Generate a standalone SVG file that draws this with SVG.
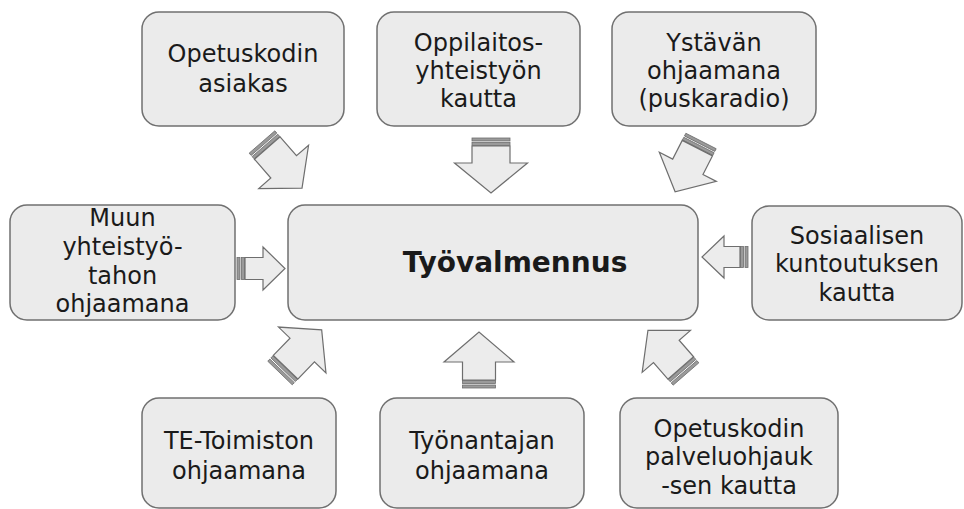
<svg xmlns="http://www.w3.org/2000/svg" width="964" height="509" viewBox="0 0 964 509">
<style>
.box{fill:#ebebeb;stroke:#707070;stroke-width:1.5}
.t{font-family:"DejaVu Sans","Liberation Sans",sans-serif;font-size:24px;fill:#1a1a1a;text-anchor:middle}
.b{font-size:28px;font-weight:bold}
.ar{fill:#ececec;stroke:#6e6e6e;stroke-width:1.2;stroke-linejoin:miter}
.st{fill:#9a9a9a;stroke:#6e6e6e;stroke-width:0.8}
</style>
<rect width="964" height="509" fill="#fff"/>
<g id="connectors">
<g transform="translate(262,142) rotate(49)">
<rect class="st" x="0" y="-17" width="3" height="34"/><rect class="st" x="4.5" y="-17" width="3" height="34"/>
<path class="ar" d="M8,-17 H33 V-33 L61,0 L33,33 V17 H8 Z"/></g>
<g transform="translate(491,138) rotate(90)">
<rect class="st" x="0" y="-19" width="3" height="38"/><rect class="st" x="4.5" y="-19" width="3" height="38"/>
<path class="ar" d="M8,-19 H25 V-36.5 L55,0 L25,36.5 V19 H8 Z"/></g>
<g transform="translate(701,141) rotate(117)">
<rect class="st" x="0" y="-17" width="3" height="34"/><rect class="st" x="4.5" y="-17" width="3" height="34"/>
<path class="ar" d="M8,-17 H29 V-32 L57,0 L29,32 V17 H8 Z"/></g>
<g transform="translate(237,268.5) rotate(0)">
<rect class="st" x="0" y="-11" width="3" height="22"/><rect class="st" x="4.5" y="-11" width="3" height="22"/>
<path class="ar" d="M8,-11 H26 V-21.5 L48,0 L26,21.5 V11 H8 Z"/></g>
<g transform="translate(748,257) rotate(180)">
<rect class="st" x="0" y="-10.5" width="3" height="21"/><rect class="st" x="4.5" y="-10.5" width="3" height="21"/>
<path class="ar" d="M8,-10.5 H24 V-21 L46,0 L24,21 V10.5 H8 Z"/></g>
<g transform="translate(280,373) rotate(-46)">
<rect class="st" x="0" y="-17" width="3" height="34"/><rect class="st" x="4.5" y="-17" width="3" height="34"/>
<path class="ar" d="M8,-17 H32 V-33 L60,0 L32,33 V17 H8 Z"/></g>
<g transform="translate(479,388) rotate(-90)">
<rect class="st" x="0" y="-16.5" width="3" height="33"/><rect class="st" x="4.5" y="-16.5" width="3" height="33"/>
<path class="ar" d="M8,-16.5 H26 V-35 L56,0 L26,35 V16.5 H8 Z"/></g>
<g transform="translate(686,374) rotate(-131)">
<rect class="st" x="0" y="-17" width="3" height="34"/><rect class="st" x="4.5" y="-17" width="3" height="34"/>
<path class="ar" d="M8,-17 H30 V-32 L58,0 L30,32 V17 H8 Z"/></g>
</g>
<g id="n1"><rect class="box" x="142" y="12" width="202" height="114" rx="17"/>
<text class="t" x="243" y="62">Opetuskodin</text><text class="t" x="243" y="92">asiakas</text></g>
<g id="n2"><rect class="box" x="377" y="12" width="203" height="114" rx="17"/>
<text class="t" x="478.5" y="51">Oppilaitos-</text><text class="t" x="478.5" y="79">yhteistyön</text><text class="t" x="478.5" y="107">kautta</text></g>
<g id="n3"><rect class="box" x="612" y="12" width="204" height="114" rx="17"/>
<text class="t" x="714" y="51">Ystävän</text><text class="t" x="714" y="79">ohjaamana</text><text class="t" x="714" y="107">(puskaradio)</text></g>
<g id="n4"><rect class="box" x="10" y="205" width="225" height="115" rx="17"/>
<text class="t" x="122.5" y="226">Muun</text><text class="t" x="122.5" y="255">yhteistyö-</text><text class="t" x="122.5" y="284">tahon</text><text class="t" x="122.5" y="312">ohjaamana</text></g>
<g id="n5"><rect class="box" x="288" y="205" width="410" height="115" rx="17"/>
<text class="t b" x="515" y="272">Työvalmennus</text></g>
<g id="n6"><rect class="box" x="752" y="206" width="210" height="114" rx="17"/>
<text class="t" x="857" y="244">Sosiaalisen</text><text class="t" x="857" y="272">kuntoutuksen</text><text class="t" x="857" y="301">kautta</text></g>
<g id="n7"><rect class="box" x="142" y="398" width="194" height="110" rx="17"/>
<text class="t" x="239" y="449">TE-Toimiston</text><text class="t" x="239" y="479">ohjaamana</text></g>
<g id="n8"><rect class="box" x="380" y="398" width="204" height="110" rx="17"/>
<text class="t" x="482" y="449">Työnantajan</text><text class="t" x="482" y="479">ohjaamana</text></g>
<g id="n9"><rect class="box" x="620" y="398" width="218" height="110" rx="17"/>
<text class="t" x="729" y="437">Opetuskodin</text><text class="t" x="729" y="465">palveluohjauk</text><text class="t" x="729" y="494">-sen kautta</text></g>
</svg>
